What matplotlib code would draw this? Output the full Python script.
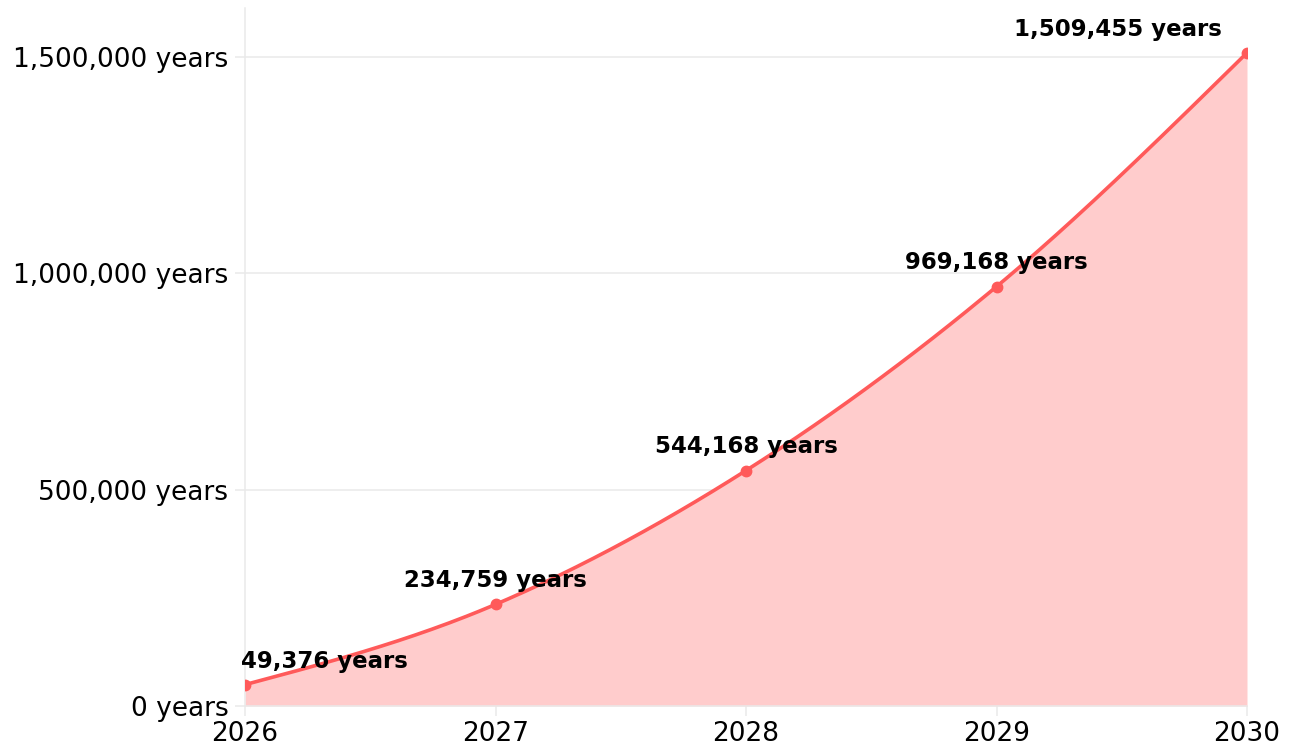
import numpy as np
import matplotlib
matplotlib.use("Agg")
import matplotlib.pyplot as plt
from matplotlib.ticker import FuncFormatter

years = [2026, 2027, 2028, 2029, 2030]
values = [49376, 234759, 544168, 969168, 1509455]
y_ticks = [0, 500000, 1000000, 1500000]

LINE = "#ff5a5a"
FILL = "#ffcccc"
GRID = "#e9e9e9"


def monotone_curve(x, y, n=60):
    x = np.asarray(x, float)
    y = np.asarray(y, float)
    h = np.diff(x)
    s = np.diff(y) / h
    t = np.zeros_like(y)
    for i in range(1, len(y) - 1):
        h0, h1 = h[i - 1], h[i]
        s0, s1 = s[i - 1], s[i]
        p = (s0 * h1 + s1 * h0) / (h0 + h1)
        t[i] = (np.sign(s0) + np.sign(s1)) * min(abs(s0), abs(s1), 0.5 * abs(p))
    t[0] = (3 * s[0] - t[1]) / 2
    t[-1] = (3 * s[-1] - t[-2]) / 2
    xs, ys = [], []
    for i in range(len(y) - 1):
        u = np.linspace(0, 1, n)
        d = h[i]
        h00 = 2 * u**3 - 3 * u**2 + 1
        h10 = u**3 - 2 * u**2 + u
        h01 = -2 * u**3 + 3 * u**2
        h11 = u**3 - u**2
        xs.append(x[i] + u * d)
        ys.append(h00 * y[i] + h10 * d * t[i] + h01 * y[i + 1] + h11 * d * t[i + 1])
    return np.concatenate(xs), np.concatenate(ys)


fig = plt.figure(figsize=(12.97, 7.52), dpi=100)
ax = fig.add_axes([245 / 1297, 46 / 752, (1247 - 245) / 1297, (706 - 8) / 752])

cx, cy = monotone_curve(years, values)
ax.fill_between(cx, 0, cy, color=FILL, linewidth=0, zorder=1)
ax.plot(cx, cy, color=LINE, linewidth=2.6, zorder=3, solid_capstyle="round")
ax.plot(years, values, "o", color=LINE, markersize=7.5, zorder=4)

ax.set_xlim(years[0], years[-1])
ax.set_ylim(0, 1613000)
ax.set_xticks(years)
ax.set_yticks(y_ticks)
ax.yaxis.set_major_formatter(FuncFormatter(lambda v, p: f"{int(v):,} years"))
ax.xaxis.set_major_formatter(FuncFormatter(lambda v, p: f"{int(v)}"))

ax.grid(axis="y", color=GRID, linewidth=1.1, zorder=0)
ax.set_axisbelow(True)
for side in ["top", "right"]:
    ax.spines[side].set_visible(False)
ax.spines["left"].set_color(GRID)
ax.spines["bottom"].set_color(GRID)
ax.spines["left"].set_linewidth(1.1)
ax.spines["bottom"].set_linewidth(1.1)
ax.tick_params(axis="both", colors=GRID, length=7, width=1.1, labelcolor="black", labelsize=19)
ax.tick_params(axis="y", pad=5)
ax.tick_params(axis="x", pad=4)

n = len(years)
for i, (x, v) in enumerate(zip(years, values)):
    label = f"{v:,} years"
    if i == 0:
        ha, dx = "left", -3
    elif i == n - 1:
        ha, dx = "right", -18
    else:
        ha, dx = "center", 0
    ax.annotate(label, (x, v), xytext=(dx, 17), textcoords="offset points",
                ha=ha, va="center", fontsize=16.5, fontweight="bold",
                color="black", zorder=5, annotation_clip=False)

fig.savefig("out.png", dpi=100, facecolor="white")
